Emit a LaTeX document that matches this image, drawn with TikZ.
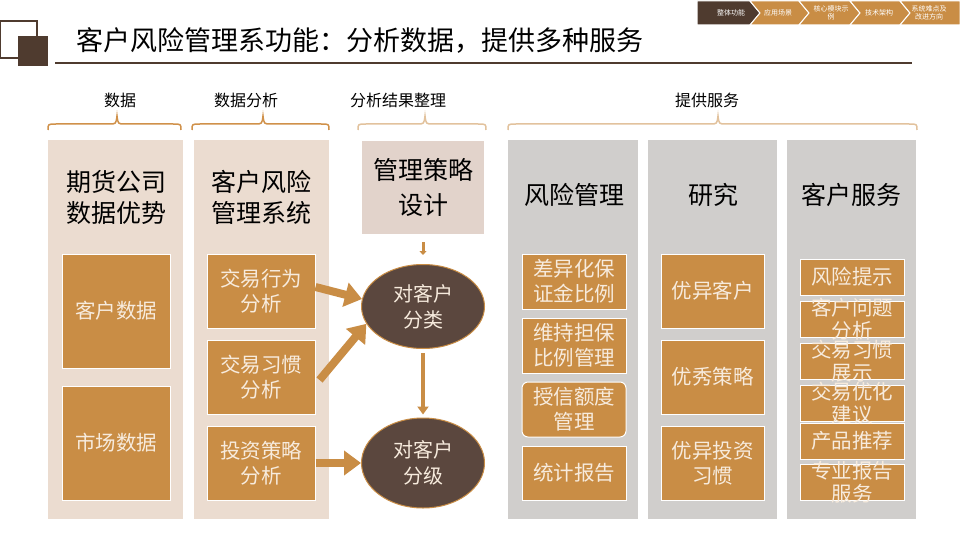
\documentclass[tikz,border=0pt]{standalone}
\usepackage{fontspec}
\setmainfont{Noto Sans CJK SC}
\usetikzlibrary{shapes.geometric,arrows.meta}
\definecolor{dbrown}{HTML}{4F3B2F}
\definecolor{orng}{HTML}{C98D45}
\definecolor{beige}{HTML}{EBDCD0}
\definecolor{stratc}{HTML}{E2D3CB}
\definecolor{lgray}{HTML}{D0CECC}
\definecolor{ebrown}{HTML}{5B473E}
\definecolor{cream}{HTML}{F7EBDD}
\definecolor{braceA}{HTML}{D0914A}
\definecolor{braceB}{HTML}{E2C29D}
\tikzset{
  colbox/.style={fill=beige, draw=none, inner sep=0pt, minimum height=379pt},
  graycol/.style={fill=lgray, draw=none, inner sep=0pt, minimum height=379pt},
  obox/.style={fill=orng, draw=white, line width=1pt, inner sep=0pt, text=cream,
    font=\fontsize{20.5}{25}\selectfont, align=center},
  otext/.style={text=cream, inner sep=0pt, font=\fontsize{20.5}{23}\selectfont, align=center},
  hdr/.style={inner sep=0pt, font=\fontsize{25}{31}\selectfont, align=center, text=black},
  lbl/.style={inner sep=0pt, font=\fontsize{16}{20}\selectfont, text=black},
  ell/.style={ellipse, fill=ebrown, draw=orng, line width=1pt, inner sep=0pt,
    minimum width=123pt, minimum height=84pt, text=cream,
    font=\fontsize{20}{26}\selectfont, align=center},
  bigarrow/.style={draw=orng, line width=8pt, -{Triangle[length=17pt,width=24pt]}},
  midarrow/.style={draw=orng, line width=4pt, -{Triangle[length=8pt,width=11pt]}},
  smallarrow/.style={draw=orng, line width=3pt, -{Triangle[length=4pt,width=7pt]}},
  bracepath/.style={line width=1.5pt},
  navtext/.style={text=white, inner sep=0pt, font=\fontsize{7}{8}\selectfont, align=center},
}
\begin{document}
\begin{tikzpicture}[x=1pt,y=-1pt]
\useasboundingbox (0,0) rectangle (960,540);
\fill[white] (0,0) rectangle (960,540);

% title decoration
\draw[dbrown, line width=1.2pt] (0.6,21) rectangle (37,58);
\fill[dbrown] (18,36) rectangle (48,66);
\node[anchor=west, inner sep=0pt, font=\fontsize{27}{30}\selectfont] (title) at (76,40) {客户风险管理系功能：分析数据，提供多种服务};
\draw[dbrown, line width=2.5pt] (55,63) -- (912,63);

% navigation chevrons
\fill[dbrown, draw=white, line width=1pt] (697,1) -- (750,1) -- (760,13) -- (750,25) -- (697,25) -- cycle;
\fill[orng, draw=white, line width=1pt] (750,1) -- (799,1) -- (809,13) -- (799,25) -- (750,25) -- (760,13) -- cycle;
\fill[orng, draw=white, line width=1pt] (799,1) -- (850,1) -- (860,13) -- (850,25) -- (799,25) -- (809,13) -- cycle;
\fill[orng, draw=white, line width=1pt] (850,1) -- (900,1) -- (910,13) -- (900,25) -- (850,25) -- (860,13) -- cycle;
\fill[orng, draw=white, line width=1pt] (900,1) -- (960,1) -- (960,25) -- (900,25) -- (910,13) -- cycle;
\node[navtext] (nav1) at (731,13) {整体功能};
\node[navtext] (nav2) at (778,13) {应用场景};
\node[navtext] (nav3) at (831,13) {核心模块示\\例};
\node[navtext] (nav4) at (879,13) {技术架构};
\node[navtext] (nav5) at (929,13) {系统难点及\\改进方向};

% top labels
\node[lbl] (l1) at (120,100) {数据};
\node[lbl] (l2) at (246,100) {数据分析};
\node[lbl] (l3) at (398,100) {分析结果整理};
\node[lbl] (l4) at (707,100) {提供服务};

% braces
\draw[bracepath, braceA] (48,130) .. controls (48,124) .. (56,124) -- (109,124) .. controls (116,124) .. (117,116) .. controls (118,124) .. (125,124) -- (173,124) .. controls (181,124) .. (181,130);
\draw[bracepath, braceA] (192,130) .. controls (192,124) .. (200,124) -- (255,124) .. controls (262,124) .. (263,116) .. controls (264,124) .. (271,124) -- (321,124) .. controls (329,124) .. (329,130);
\draw[bracepath, braceB] (358,130) .. controls (358,124) .. (366,124) -- (417,124) .. controls (424,124) .. (425,116) .. controls (426,124) .. (433,124) -- (478,124) .. controls (486,124) .. (486,130);
\draw[bracepath, braceB] (508,130) .. controls (508,124) .. (516,124) -- (710,124) .. controls (717,124) .. (718,116) .. controls (719,124) .. (726,124) -- (909,124) .. controls (917,124) .. (917,130);

% columns
\node[colbox, minimum width=135pt] (c1) at (115.5,329.5) {};
\node[colbox, minimum width=135pt] (c2) at (261.5,329.5) {};
\node[graycol, minimum width=130pt] (c3) at (573,329.5) {};
\node[graycol, minimum width=129pt] (c4) at (712.5,329.5) {};
\node[graycol, minimum width=129pt] (c5) at (851.5,329.5) {};

% column headers
\node[hdr] (h1) at (116.5,197) {期货公司\\数据优势};
\node[hdr] (h2) at (261.5,197) {客户风险\\管理系统};
\node[hdr] (h3) at (574,195) {风险管理};
\node[hdr] (h4) at (713,195) {研究};
\node[hdr] (h5) at (851.5,195) {客户服务};

% strategy box
\node[fill=stratc, inner sep=0pt, minimum width=122pt, minimum height=93pt,
  font=\fontsize{25}{35}\selectfont, align=center] (strat) at (423,187.5) {管理策略\\设计};

% column 1 boxes
\node[obox, minimum width=108pt, minimum height=114pt] (a1) at (116,311) {客户数据};
\node[obox, minimum width=108pt, minimum height=114pt] (a2) at (116,443) {市场数据};

% column 2 boxes
\node[obox, minimum width=108pt, minimum height=74pt] (b1) at (261,291) {交易行为\\分析};
\node[obox, minimum width=108pt, minimum height=74pt] (b2) at (261,377) {交易习惯\\分析};
\node[obox, minimum width=108pt, minimum height=74pt] (b3) at (261,463) {投资策略\\分析};

% ellipses
\node[ell] (e1) at (423,306.5) {对客户\\分类};
\node[ell, minimum height=90pt] (e2) at (423,463) {对客户\\分级};

% column 3 boxes
\node[obox, minimum width=104pt, minimum height=55pt] (r1) at (574,281.5) {差异化保\\证金比例};
\node[obox, minimum width=104pt, minimum height=55pt] (r2) at (574,345.5) {维持担保\\比例管理};
\node[obox, rounded corners=6pt, minimum width=104pt, minimum height=55pt] (r3) at (574,409.5) {授信额度\\管理};
\node[obox, minimum width=104pt, minimum height=54pt] (r4) at (574,473) {统计报告};

% column 4 boxes
\node[obox, minimum width=103pt, minimum height=74pt] (s1) at (712.5,291) {优异客户};
\node[obox, minimum width=103pt, minimum height=74pt] (s2) at (712.5,377) {优秀策略};
\node[obox, minimum width=103pt, minimum height=74pt] (s3) at (712.5,463) {优异投资\\习惯};

% column 5 boxes
\node[obox, minimum width=104pt, minimum height=36pt] (t1) at (852,277) {};
\node[obox, minimum width=104pt, minimum height=36pt] (t2) at (852,319) {};
\node[obox, minimum width=104pt, minimum height=36pt] (t3) at (852,361) {};
\node[obox, minimum width=104pt, minimum height=36pt] (t4) at (852,403) {};
\node[obox, minimum width=104pt, minimum height=36pt] (t5) at (852,441) {};
\node[obox, minimum width=104pt, minimum height=36pt] (t6) at (852,482) {};
\node[otext] (tt1) at (t1) {风险提示};
\node[otext] (tt2) at (t2) {客户问题\\分析};
\node[otext] (tt3) at (t3) {交易习惯\\展示};
\node[otext] (tt4) at (t4) {交易优化\\建议};
\node[otext] (tt5) at (t5) {产品推荐};
\node[otext] (tt6) at (t6) {专业报告\\服务};

% arrows
\draw[bigarrow] ([yshift=4pt]b1.east) -- (e1.173);
\draw[bigarrow] ([xshift=4pt,yshift=-3pt]b2.east) -- (e1.197);
\draw[bigarrow] (b3.east) -- (e2.west);
\draw[midarrow, shorten <=4pt, shorten >=3pt] (e1.south) -- (e2.north);
\draw[smallarrow, shorten <=8pt, shorten >=9pt] (strat.south) -- (e1.north);
\end{tikzpicture}
\end{document}
